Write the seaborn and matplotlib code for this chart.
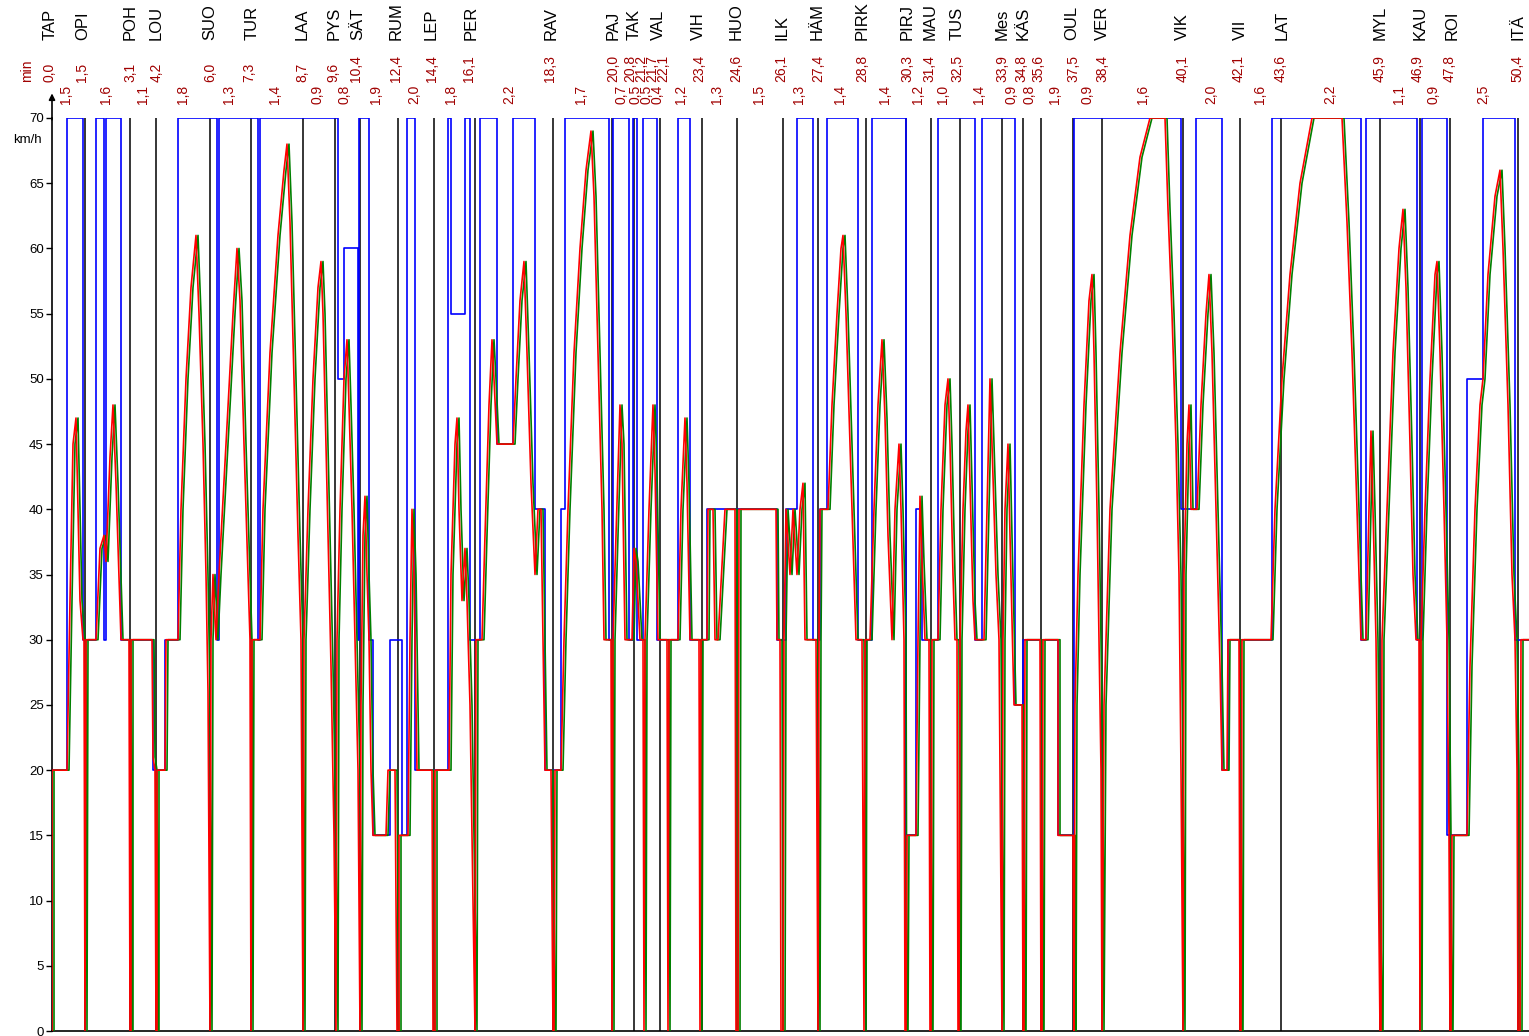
import numpy as np
import matplotlib
matplotlib.use("Agg")
import matplotlib.pyplot as plt
import matplotlib.transforms as mtransforms
import seaborn as sns

# stop names along the line and their track positions
stop_names = ["TAP", "OPI", "POH", "LOU", "SUO", "TUR", "LAA", "PYS", "SÄT", "RUM",
              "LEP", "PER", "RAV", "PAJ", "TAK", "VAL", "VIH", "HUO", "ILK", "HÄM",
              "PIRK", "PIRJ", "MAU", "TUS", "Mes", "KÄS", "OUL", "VER", "VIK", "VII",
              "LAT", "MYL", "KAU", "ROI", "ITÄ"]
stop_pos = [50, 83, 130, 156, 210, 252, 302, 334, 358, 396,
            431, 471, 551, 613, 634, 658, 698, 736, 782, 817,
            862, 907, 930, 957, 1002, 1023, 1072, 1102, 1182, 1240,
            1282, 1380, 1420, 1452, 1518]

# cumulative timetable (min)
times = ["0,0", "1,5", "3,1", "4,2", "6,0", "7,3", "8,7", "9,6", "10,4", "12,4",
         "14,4", "16,1", "18,3", "20,0", "20,8", "21,2", "21,7", "22,1", "23,4", "24,6",
         "26,1", "27,4", "28,8", "30,3", "31,4", "32,5", "33,9", "34,8", "35,6", "37,5",
         "38,4", "40,1", "42,1", "43,6", "45,9", "46,9", "47,8", "50,4"]
time_pos = [50, 82, 130, 157, 210, 249, 302, 333, 356, 396,
            432, 469, 550, 613, 630, 641, 652, 663, 699, 736,
            781, 818, 862, 907, 929, 957, 1002, 1021, 1038, 1073,
            1102, 1183, 1239, 1281, 1380, 1418, 1450, 1517]

# running time between stops (min)
run_times = ["1,5", "1,6", "1,1", "1,8", "1,3", "1,4", "0,9", "0,8", "1,9", "2,0",
             "1,8", "2,2", "1,7", "0,7", "0,5", "0,5", "0,4", "1,2", "1,3", "1,5",
             "1,3", "1,4", "1,4", "1,2", "1,0", "1,4", "0,9", "0,8", "1,9", "0,9",
             "1,6", "2,0", "1,6", "2,2", "1,1", "0,9", "2,5"]

# platform markers
platform_pos = [85, 130, 156, 210, 251, 303, 335, 360, 398, 434, 475, 553, 612, 634,
                660, 702, 737, 783, 818, 866, 906, 931, 960, 1002, 1023, 1041, 1073,
                1102, 1183, 1240, 1281, 1380, 1420, 1450, 1518]

# speed limit (km/h), step changes
limit_pos = [52, 67, 83, 96, 104, 106, 121, 153, 165, 178, 217, 219, 258, 260, 338, 344,
             358, 359, 369, 373, 390, 402, 407, 415, 448, 451, 465, 470, 480, 497, 513,
             535, 545, 561, 565, 609, 613, 629, 633, 637, 643, 657, 678, 690, 707, 777,
             786, 797, 813, 820, 827, 858, 872, 906, 916, 922, 938, 975, 982, 1015, 1023,
             1058, 1074, 1181, 1196, 1222, 1228, 1272, 1361, 1366, 1417, 1422, 1447, 1467,
             1483, 1515, 1529]
limit_kmh = [20, 70, 30, 70, 30, 70, 30, 20, 30, 70, 30, 70, 30, 70, 50, 60,
             30, 70, 30, 15, 30, 15, 70, 20, 70, 55, 70, 30, 70, 45, 70,
             40, 20, 40, 70, 30, 70, 30, 70, 30, 70, 30, 70, 30, 40, 30,
             40, 70, 30, 40, 70, 30, 70, 15, 40, 30, 70, 30, 70, 25, 30,
             15, 70, 40, 70, 20, 30, 70, 30, 70, 30, 70, 15, 50,
             70, 30, 30]

# simulated run
run_pos = [52, 52, 67, 70, 73, 76, 78, 80, 83, 84, 85, 86, 96, 100, 104, 106, 110, 113, 116,
           121, 129, 130, 131, 131, 152, 153, 155, 156, 157, 157, 165, 166, 178, 181, 186,
           191, 196, 199, 203, 206, 208, 210, 211, 213, 216, 219, 226, 233, 237, 240, 244,
           248, 250, 251, 252, 260, 263, 270, 278, 284, 287, 290, 294, 298, 301, 303, 304,
           308, 313, 318, 321, 323, 326, 329, 331, 334, 336, 337, 340, 344, 347, 349, 352,
           355, 358, 360, 361, 363, 365, 367, 369, 371, 373, 386, 388, 395, 397, 399, 399,
           408, 410, 412, 414, 416, 417, 432, 433, 435, 435, 449, 451, 455, 457, 459, 462,
           465, 467, 470, 473, 475, 476, 482, 485, 489, 492, 494, 497, 513, 516, 520, 524,
           527, 531, 535, 538, 541, 543, 545, 551, 553, 554, 555, 561, 564, 568, 574, 580,
           586, 591, 594, 598, 602, 604, 611, 612, 613, 616, 620, 622, 625, 632, 634, 636,
           640, 643, 644, 645, 649, 653, 655, 658, 667, 668, 669, 678, 681, 685, 687, 690,
           699, 700, 701, 707, 708, 713, 715, 718, 725, 735, 736, 738, 739, 776, 777, 780,
           781, 783, 784, 786, 790, 793, 797, 800, 803, 805, 816, 818, 819, 820, 828, 832,
           837, 841, 843, 846, 850, 854, 856, 862, 864, 865, 870, 874, 878, 882, 885, 888,
           892, 895, 899, 901, 904, 905, 906, 907, 916, 918, 920, 922, 925, 929, 930, 931,
           932, 938, 941, 945, 948, 950, 953, 955, 957, 958, 959, 960, 963, 966, 968, 970,
           973, 975, 984, 987, 990, 992, 996, 999, 1002, 1003, 1005, 1008, 1010, 1013, 1014,
           1022, 1023, 1024, 1025, 1040, 1041, 1042, 1043, 1058, 1058, 1073, 1074, 1075, 1078,
           1084, 1089, 1092, 1094, 1097, 1099, 1101, 1102, 1104, 1110, 1120, 1130, 1140, 1150,
           1165, 1168, 1172, 1176, 1179, 1181, 1183, 1184, 1187, 1189, 1191, 1197, 1201, 1206,
           1209, 1212, 1216, 1220, 1222, 1227, 1228, 1239, 1240, 1241, 1242, 1271, 1275, 1282,
           1290, 1300, 1312, 1342, 1347, 1352, 1357, 1361, 1366, 1369, 1371, 1373, 1376, 1378,
           1380, 1381, 1382, 1387, 1393, 1399, 1403, 1406, 1410, 1413, 1416, 1419, 1420, 1421,
           1425, 1430, 1435, 1437, 1440, 1444, 1447, 1449, 1450, 1451, 1452, 1467, 1470, 1475,
           1480, 1483, 1488, 1495, 1500, 1503, 1508, 1512, 1515, 1517, 1518, 1520, 1521, 1529]
run_kmh = [0, 20, 20, 33, 45, 47, 40, 33, 30, 30, 0, 30, 30, 37, 38, 36, 44, 48, 42,
           30, 30, 0, 0, 30, 30, 21, 20, 0, 0, 20, 20, 30, 30, 40, 50,
           57, 61, 55, 45, 35, 26, 0, 30, 35, 30, 35, 45, 55, 60, 56, 45,
           35, 30, 0, 30, 30, 40, 52, 61, 66, 68, 62, 50, 38, 30, 0, 30,
           40, 50, 57, 59, 55, 45, 35, 28, 15, 0, 30, 40, 50, 53, 48, 40,
           30, 20, 0, 25, 38, 41, 35, 30, 20, 15, 15, 20, 20, 0, 0, 15,
           15, 30, 40, 35, 25, 20, 20, 0, 0, 20, 20, 35, 45, 47, 40, 33,
           37, 33, 25, 10, 0, 30, 30, 38, 48, 53, 50, 45, 45, 50, 56, 59,
           52, 42, 35, 40, 40, 30, 20, 20, 0, 0, 20, 20, 30, 40, 52, 60,
           66, 69, 64, 52, 40, 30, 30, 0, 30, 38, 48, 45, 30, 30, 37, 36,
           30, 30, 0, 30, 40, 48, 43, 30, 30, 0, 30, 30, 40, 47, 42, 30,
           30, 0, 30, 30, 40, 40, 30, 30, 40, 40, 0, 0, 40, 40, 30, 30,
           0, 0, 30, 40, 35, 40, 35, 40, 42, 30, 30, 0, 30, 40, 40, 48,
           55, 60, 61, 55, 45, 35, 30, 30, 0, 30, 30, 40, 48, 53, 47, 38,
           30, 40, 45, 40, 30, 0, 0, 15, 15, 30, 41, 36, 30, 30, 0, 0,
           30, 30, 40, 48, 50, 45, 35, 30, 30, 0, 0, 30, 40, 46, 48, 42,
           33, 30, 30, 40, 50, 45, 35, 30, 0, 30, 40, 45, 38, 28, 25,
           25, 0, 0, 30, 30, 0, 0, 30, 30, 15, 15, 0, 25, 35,
           48, 56, 58, 52, 40, 30, 20, 0, 25, 40, 52, 61, 67, 70,
           70, 63, 55, 45, 35, 20, 0, 35, 45, 48, 40, 40, 48, 55,
           58, 52, 40, 28, 20, 20, 30, 30, 0, 0, 30, 30, 40, 50,
           58, 65, 70, 70, 62, 52, 40, 30, 30, 40, 46, 40, 30, 15,
           0, 0, 30, 40, 52, 60, 63, 57, 45, 35, 30, 30, 0, 30,
           40, 50, 58, 59, 52, 40, 30, 15, 0, 0, 15, 15, 28, 40,
           48, 50, 58, 64, 66, 60, 48, 35, 30, 20, 0, 0, 30, 30]

sns.set_style("ticks")
plt.rcParams["font.family"] = ["Liberation Sans", "DejaVu Sans"]

W, H = 1529, 1036
fig = plt.figure(figsize=(W / 100, H / 100), dpi=100)
ax = fig.add_axes([52 / W, 5 / H, (W - 52) / W, (1031 - 118) / H])

# platform markers
ax.vlines(platform_pos, 0, 70, color="black", lw=1.1, zorder=1)

# speed limit
sns.lineplot(x=limit_pos, y=limit_kmh, drawstyle="steps-post", sort=False,
             estimator=None, color="#0000ff", lw=1.2, ax=ax, zorder=2)

# run profile, green trace slightly behind the red one
sns.lineplot(x=run_pos, y=run_kmh, sort=False, estimator=None,
             color="#008000", lw=1.2, ax=ax, zorder=3)
ax.lines[-1].set_transform(mtransforms.offset_copy(ax.transData, fig=fig, x=2, y=0, units="dots"))
sns.lineplot(x=run_pos, y=run_kmh, sort=False, estimator=None,
             color="#ff0000", lw=1.2, ax=ax, zorder=4)

ax.set_xlim(52, 1529)
ax.set_ylim(0, 70)
ax.set_yticks(np.arange(0, 71, 5))
ax.set_xticks([])
ax.tick_params(axis="y", labelsize=9.5, length=4, width=1, pad=2, colors="black")
ax.set_xlabel("")
ax.set_ylabel("")
for side in ["top", "right"]:
    ax.spines[side].set_visible(False)
for side in ["left", "bottom"]:
    ax.spines[side].set_color("black")
    ax.spines[side].set_linewidth(1.2)

ax.annotate("", xy=(0, 1.03), xytext=(0, 0.995), xycoords="axes fraction",
            arrowprops=dict(arrowstyle="-|>", color="black", lw=1.2, mutation_scale=9),
            annotation_clip=False)

trans = mtransforms.blended_transform_factory(ax.transData, fig.transFigure)
dark_red = "#a00000"

for name, x in zip(stop_names, stop_pos):
    ax.text(x, 1 - 40 / H, name, rotation=90, ha="center", va="bottom",
            fontsize=12, color="black", transform=trans, clip_on=False)

for t, x in zip(times, time_pos):
    ax.text(x, 1 - 82 / H, t, rotation=90, ha="center", va="bottom",
            fontsize=10, color=dark_red, transform=trans, clip_on=False)

mid_pos = (np.array(time_pos[:-1]) + np.array(time_pos[1:])) / 2
for t, x in zip(run_times, mid_pos):
    ax.text(x, 1 - 104 / H, t, rotation=90, ha="center", va="bottom",
            fontsize=10, color=dark_red, transform=trans, clip_on=False)

fig.text(27 / W, 1 - 82 / H, "min", rotation=90, ha="center", va="bottom",
         fontsize=10, color=dark_red)
fig.text(13 / W, 1 - 140 / H, "km/h", ha="left", va="center", fontsize=9.5, color="black")

fig.savefig("out.png", dpi=100)
